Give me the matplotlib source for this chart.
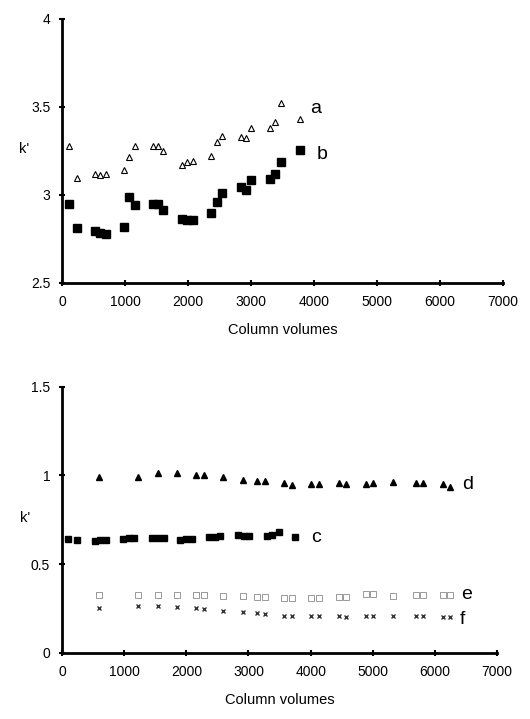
import matplotlib
matplotlib.use("Agg")
import matplotlib.pyplot as plt

plt.rcParams['font.family'] = ['Liberation Sans', 'DejaVu Sans']

# top panel
a_x = [106, 238, 518, 597, 692, 988, 1067, 1152, 1442, 1527, 1611, 1902, 1992, 2076,
       2372, 2462, 2546, 2837, 2922, 3006, 3307, 3386, 3476, 3777]
a_y = [3.276, 3.096, 3.118, 3.111, 3.118, 3.141, 3.217, 3.279, 3.279, 3.276, 3.251, 3.170,
       3.187, 3.192, 3.223, 3.300, 3.336, 3.332, 3.321, 3.380, 3.378, 3.414, 3.521, 3.434]
b_x = a_x
b_y = [2.946, 2.814, 2.793, 2.782, 2.776, 2.816, 2.988, 2.945, 2.946, 2.946, 2.914, 2.863,
       2.857, 2.859, 2.895, 2.958, 3.014, 3.043, 3.030, 3.084, 3.092, 3.122, 3.185, 3.257]

# bottom panel
c_x = [97, 241, 526, 617, 708, 982, 1073, 1153, 1448, 1540, 1636, 1904, 1990, 2092,
       2371, 2457, 2548, 2832, 2923, 3015, 3299, 3379, 3487, 3755]
c_y = [0.643, 0.638, 0.632, 0.634, 0.636, 0.640, 0.645, 0.648, 0.646, 0.646, 0.646, 0.637,
       0.641, 0.644, 0.652, 0.655, 0.660, 0.662, 0.660, 0.658, 0.660, 0.663, 0.679, 0.656]
d_x = [601, 1228, 1540, 1851, 2162, 2285, 2596, 2913, 3143, 3267, 3578, 3701, 4012, 4136,
       4452, 4575, 4887, 5010, 5326, 5691, 5815, 6126, 6249]
d_y = [0.990, 0.994, 1.012, 1.012, 1.005, 1.003, 0.990, 0.975, 0.969, 0.969, 0.960, 0.947,
       0.954, 0.952, 0.958, 0.950, 0.952, 0.956, 0.964, 0.960, 0.960, 0.952, 0.937]
e_x = d_x
e_y = [0.325, 0.325, 0.327, 0.327, 0.327, 0.325, 0.323, 0.322, 0.318, 0.318, 0.312, 0.312,
       0.310, 0.312, 0.318, 0.316, 0.330, 0.330, 0.322, 0.325, 0.325, 0.325, 0.325]
f_x = d_x
f_y = [0.253, 0.262, 0.262, 0.257, 0.251, 0.247, 0.238, 0.231, 0.225, 0.221, 0.210, 0.208,
       0.206, 0.206, 0.206, 0.204, 0.208, 0.208, 0.210, 0.206, 0.206, 0.202, 0.204]

fig = plt.figure(figsize=(5.3, 7.19), dpi=100)
ax1 = fig.add_axes([0.117, 0.6064, 0.832, 0.3672])
ax2 = fig.add_axes([0.117, 0.0918, 0.821, 0.3704])


def style(ax):
    for s in ['top', 'right']:
        ax.spines[s].set_visible(False)
    for s in ['left', 'bottom']:
        ax.spines[s].set_linewidth(2)
    ax.tick_params(direction='inout', length=5, width=1.5, labelsize=10, pad=6)
    ax.set_xlim(0, 7000)
    ax.set_xticks(range(0, 7001, 1000))
    ax.set_xlabel('Column volumes', fontsize=10.5, labelpad=10)


ax1.plot(a_x, a_y, '^', ms=5, mfc='white', mec='black', mew=0.8, ls='none')
ax1.plot(b_x, b_y, 's', ms=5.5, color='black', ls='none')
ax1.set_ylim(2.5, 4)
ax1.set_yticks([2.5, 3, 3.5, 4])
ax1.set_yticklabels(['2.5', '3', '3.5', '4'])
style(ax1)
ax1.set_ylabel("k'", rotation=0, fontsize=10.5)
ax1.yaxis.set_label_coords(-0.085, 0.48)
ax1.text(3935, 3.49, 'a', fontsize=14, va='center')
ax1.text(4040, 3.23, 'b', fontsize=14, va='center')

ax2.plot(c_x, c_y, 's', ms=4.5, color='black', ls='none')
ax2.plot(d_x, d_y, '^', ms=4, color='black', ls='none')
ax2.plot(e_x, e_y, 's', ms=4, mfc='none', mec='#999999', mew=0.7, ls='none')
ax2.plot(f_x, f_y, 'x', ms=3.5, color='#333333', mew=1, ls='none')
ax2.set_ylim(0, 1.5)
ax2.set_yticks([0, 0.5, 1, 1.5])
ax2.set_yticklabels(['0', '0.5', '1', '1.5'])
style(ax2)
ax2.set_ylabel("k'", rotation=0, fontsize=10.5)
ax2.yaxis.set_label_coords(-0.085, 0.48)
ax2.text(4000, 0.65, 'c', fontsize=14, va='center')
ax2.text(6440, 0.95, 'd', fontsize=14, va='center')
ax2.text(6420, 0.33, 'e', fontsize=14, va='center')
ax2.text(6400, 0.19, 'f', fontsize=14, va='center')

fig.savefig('out.png', dpi=100)
